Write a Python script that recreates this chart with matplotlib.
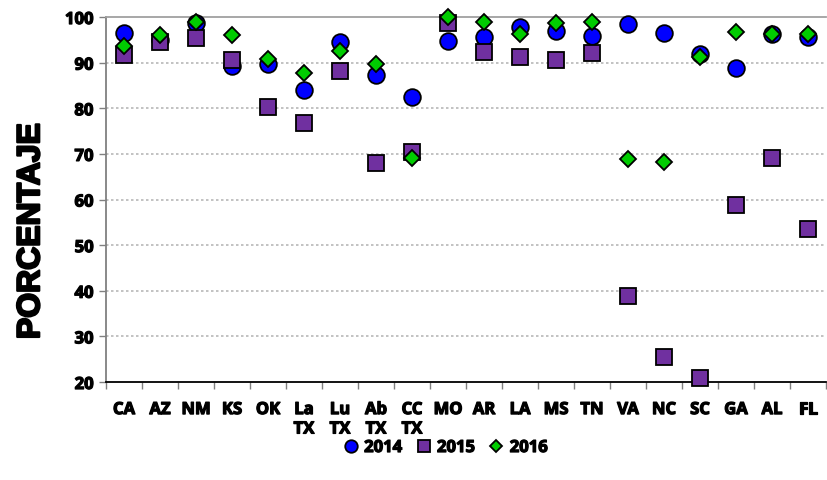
import matplotlib
matplotlib.use("Agg")
import matplotlib.pyplot as plt
import matplotlib.patheffects as pe
import numpy as np

categories = ["CA", "AZ", "NM", "KS", "OK", "La\nTX", "Lu\nTX", "Ab\nTX", "CC\nTX", "MO",
              "AR", "LA", "MS", "TN", "VA", "NC", "SC", "GA", "AL", "FL"]
s2014 = [96.5, 95.0, 98.6, 89.3, 89.7, 84.0, 94.6, 87.3, 82.4, 94.8,
         95.7, 97.7, 96.9, 95.8, 98.5, 96.6, 92.0, 88.8, 96.2, 95.7]
s2015 = [91.7, 94.6, 95.3, 90.6, 80.3, 76.7, 88.2, 67.9, 70.5, 98.6,
         92.3, 91.2, 90.6, 92.2, 38.9, 25.5, 20.9, 58.9, 69.2, 53.5]
s2016 = [93.6, 96.0, 98.8, 96.1, 90.7, 87.7, 92.6, 89.8, 69.2, 99.9,
         99.0, 96.2, 98.6, 98.8, 68.8, 68.3, 91.3, 96.8, 96.3, 96.3]
series_labels = ["2014", "2015", "2016"]
yticks = [20, 30, 40, 50, 60, 70, 80, 90, 100]

FONT = "Open Sans"
BOLD = [pe.withStroke(linewidth=0.9, foreground="black")]
BOLD_BIG = [pe.withStroke(linewidth=1.6, foreground="black")]

fig = plt.figure(figsize=(8.28, 4.8), dpi=100)
ax = fig.add_axes([106/828, 1-382/480, 720/828, 365/480])

x = np.arange(len(categories))
ax.plot(x, s2014, linestyle="none", marker="o", markersize=12, markerfacecolor="#0000FF",
        markeredgecolor="black", markeredgewidth=1.3, label=series_labels[0], zorder=3, clip_on=False)
ax.plot(x, s2015, linestyle="none", marker="s", markersize=11.5, markerfacecolor="#7030A0",
        markeredgecolor="black", markeredgewidth=1.3, label=series_labels[1], zorder=4, clip_on=False)
ax.plot(x, s2016, linestyle="none", marker="D", markersize=8.5, markerfacecolor="#00CC00",
        markeredgecolor="black", markeredgewidth=1.3, label=series_labels[2], zorder=5, clip_on=False)

ax.set_xlim(-0.5, len(categories) - 0.5)
ax.set_ylim(20, 100)
ax.set_yticks(yticks)
ax.set_yticklabels([str(v) for v in yticks], fontfamily=FONT, fontweight="bold", fontsize=12)
ax.set_xticks(x)
ax.set_xticklabels(categories, fontfamily=FONT, fontweight="bold", fontsize=12,
                   linespacing=1.1, va="top")
for t in ax.get_xticklabels() + ax.get_yticklabels():
    t.set_path_effects(BOLD)
ax.set_xticks(np.arange(-0.5, len(categories), 1.0), minor=True)
ax.tick_params(axis="x", which="major", length=0, pad=13)
ax.tick_params(axis="x", which="minor", length=5, color="#808080", width=1)
ax.tick_params(axis="y", length=5, color="#808080", width=1, pad=4)

for v in yticks[1:-1]:
    ax.axhline(v, color="#B8B8B8", linestyle=(0, (1.5, 1.5)), linewidth=1.2, zorder=1)

ax.spines["left"].set_color("#808080")
ax.spines["left"].set_linewidth(1.3)
ax.spines["top"].set_color("#A0A0A0")
ax.spines["top"].set_linewidth(1.3)
ax.spines["right"].set_visible(False)
ax.spines["bottom"].set_color("black")
ax.spines["bottom"].set_linewidth(1.3)

yl = ax.set_ylabel("PORCENTAJE", fontfamily="Liberation Sans", fontweight="bold", fontsize=23)
yl.set_path_effects(BOLD_BIG)
ax.yaxis.set_label_coords(-0.083, 0.414)

leg = fig.legend(loc="center", bbox_to_anchor=(445/828, 1-447/480), ncol=3, frameon=False,
                 markerscale=0.75, handletextpad=0.3, columnspacing=0.8, handlelength=1.0,
                 prop={"family": FONT, "weight": "bold", "size": 12})
for t in leg.get_texts():
    t.set_path_effects(BOLD)

fig.savefig("out.png", dpi=100)
